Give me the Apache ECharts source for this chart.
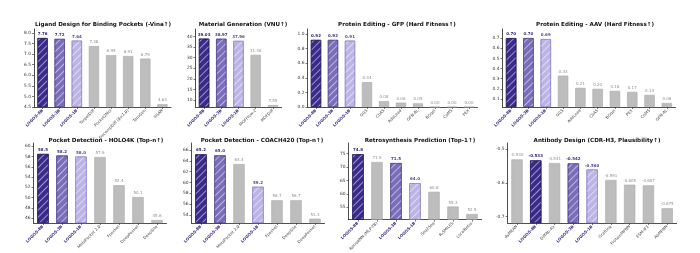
<!DOCTYPE html>
<html>
<head>
<meta charset="utf-8">
<script src="https://cdn.jsdelivr.net/npm/echarts@6/dist/echarts.min.js"></script>
<style>
  html, body { margin: 0; padding: 0; background: #fff; }
  #chart { width: 700px; height: 253px; }
</style>
</head>
<body>
<div id="chart"></div>
<script>
// ---- data ----
var ligandNames = ['LOGOS-8B', 'LOGOS-3B', 'LOGOS-1B', 'TargetDiff', 'Pocket2Mol', 'DecompDiff (β=1.0)', 'TamGen', 'liGAN'];
var ligandVina = [7.76, 7.72, 7.64, 7.38, 6.95, 6.91, 6.79, 4.63];
var ligandTicks = [4.5, 5.0, 5.5, 6.0, 6.5, 7.0, 7.5, 8.0];

var materialNames = ['LOGOS-8B', 'LOGOS-3B', 'LOGOS-1B', 'MOFFlow-2', 'MOFDiff'];
var materialVnu = [39.03, 38.97, 37.96, 31.36, 7.55];
var materialTicks = [10, 15, 20, 25, 30, 35, 40];

var gfpNames = ['LOGOS-8B', 'LOGOS-3B', 'LOGOS-1B', 'GGS', 'CbAS', 'AdaLead', 'GFN-AL', 'BOqei', 'CoMS', 'PEX'];
var gfpFitness = [0.92, 0.92, 0.91, 0.34, 0.08, 0.06, 0.05, 0.00, 0.00, 0.00];
var gfpTicks = [0.0, 0.2, 0.4, 0.6, 0.8, 1.0];

var aavNames = ['LOGOS-8B', 'LOGOS-3B', 'LOGOS-1B', 'GGS', 'AdaLead', 'CbAS', 'BOqei', 'PEX', 'CoMS', 'GFN-AL'];
var aavFitness = [0.70, 0.70, 0.69, 0.33, 0.21, 0.20, 0.18, 0.17, 0.14, 0.06];
var aavTicks = [0.1, 0.2, 0.3, 0.4, 0.5, 0.6, 0.7];

var holoNames = ['LOGOS-8B', 'LOGOS-3B', 'LOGOS-1B', 'MetaPocket 2.0', 'Fpocket', 'DeepPocket', 'DeepSite'];
var holoTop = [58.5, 58.2, 58.0, 57.9, 52.4, 50.1, 45.6];
var holoTicks = [46, 48, 50, 52, 54, 56, 58, 60];

var coachNames = ['LOGOS-8B', 'LOGOS-3B', 'MetaPocket 2.0', 'LOGOS-1B', 'Fpocket', 'DeepSite', 'DeepPocket'];
var coachTop = [65.2, 65.0, 63.4, 59.2, 56.7, 56.7, 53.3];
var coachTicks = [54, 56, 58, 60, 62, 64, 66];

var retroNames = ['LOGOS-8B', 'RetroKNN (MLP-TB)', 'LOGOS-3B', 'LOGOS-1B', 'Seq2Seq', 'R-SMILES', 'LocalRetro'];
var retroTop1 = [74.8, 71.9, 71.5, 64.0, 60.8, 55.3, 52.5];
var retroTicks = [55, 60, 65, 70, 75];

var antibodyNames = ['dyMEAN', 'LOGOS-8B', 'DiffAb-Fix', 'LOGOS-3B', 'LOGOS-1B', 'Grafting', 'ProteinMPNN', 'ESM-IF1', 'AbMPNN'];
var antibodyPlaus = [-0.530, -0.533, -0.541, -0.542, -0.560, -0.591, -0.605, -0.607, -0.675];
var antibodyTicks = [-0.7, -0.6, -0.5];

// ---- panels: data + layout ----
var panels = [
  { title: 'Ligand Design for Binding Pockets (-Vina↑)', names: ligandNames, values: ligandVina, ticks: ligandTicks,
    dec: 2, tickDec: 1, min: 4.5, max: 8.19, left: 34, width: 137, top: 29, height: 78, tx: 98, ty: 17 },
  { title: 'Material Generation (VNU↑)', names: materialNames, values: materialVnu, ticks: materialTicks,
    dec: 2, tickDec: 0, min: 6.68, max: 43.6, left: 195.5, width: 86, top: 29, height: 78, tx: 238, ty: 17 },
  { title: 'Protein Editing - GFP (Hard Fitness↑)', names: gfpNames, values: gfpFitness, ticks: gfpTicks,
    dec: 2, tickDec: 1, min: 0, max: 1.07, left: 307.5, width: 170, top: 29, height: 78, tx: 392, ty: 17 },
  { title: 'Protein Editing - AAV (Hard Fitness↑)', names: aavNames, values: aavFitness, ticks: aavTicks,
    dec: 2, tickDec: 1, min: 0.021, max: 0.79, left: 502.5, width: 173, top: 29, height: 78, tx: 590, ty: 17 },
  { title: 'Pocket Detection - HOLO4K (Top-n↑)', names: holoNames, values: holoTop, ticks: holoTicks,
    dec: 1, tickDec: 0, min: 45.03, max: 60.64, left: 33.5, width: 133, top: 143, height: 80, tx: 101, ty: 133 },
  { title: 'Pocket Detection - COACH420 (Top-n↑)', names: coachNames, values: coachTop, ticks: coachTicks,
    dec: 1, tickDec: 0, min: 52.5, max: 67.3, left: 191.5, width: 133, top: 143, height: 80, tx: 257, ty: 133 },
  { title: 'Retrosynthesis Prediction (Top-1↑)', names: retroNames, values: retroTop1, ticks: retroTicks,
    dec: 1, tickDec: 0, min: 50.4, max: 79.0, left: 348.5, width: 133, top: 143, height: 80, tx: 415, ty: 133 },
  { title: 'Antibody Design (CDR-H3, Plausibility↑)', names: antibodyNames, values: antibodyPlaus, ticks: antibodyTicks,
    dec: 3, tickDec: 1, min: -0.7186, max: -0.4814, left: 507.6, width: 169, top: 143, height: 80, tx: 592, ty: 133 }
];

var FONT = 'DejaVu Sans';
var logosStyle = {
  'LOGOS-8B': { fill: '#3a2a8c', edge: '#1e1458', label: '#2a1f72' },
  'LOGOS-3B': { fill: '#7b6db9', edge: '#4b408c', label: '#3d3383' },
  'LOGOS-1B': { fill: '#bdb4e6', edge: '#8c82c6', label: '#5649a6' }
};
var greyStyle = { fill: '#bdbdbd', edge: '#aaaaaa', label: '#8c8c8c' };

function styleFor(name) {
  return logosStyle[name] || greyStyle;
}

var option = {
  animation: false,
  backgroundColor: '#ffffff',
  title: [], grid: [], xAxis: [], yAxis: [], series: []
};

panels.forEach(function (p, i) {
  option.title.push({
    text: p.title, left: p.tx, top: p.ty, textAlign: 'center',
    textStyle: { fontFamily: FONT, fontSize: 5.6, fontWeight: 'bold', color: '#111' }
  });
  option.grid.push({ left: p.left, top: p.top, width: p.width, height: p.height, containLabel: false });
  option.xAxis.push({
    type: 'category', gridIndex: i, data: p.names,
    axisLine: { lineStyle: { color: '#222', width: 0.8 } },
    axisTick: { show: true, alignWithLabel: true, length: 2, lineStyle: { color: '#222', width: 0.6 } },
    axisLabel: {
      interval: 0, rotate: 45, margin: 3,
      formatter: function (v) { return logosStyle[v] ? '{logo|' + v + '}' : '{base|' + v + '}'; },
      rich: {
        logo: { fontFamily: FONT, fontSize: 4, fontWeight: 'bold', color: '#2e2680' },
        base: { fontFamily: FONT, fontSize: 4, color: '#444' }
      }
    }
  });
  option.yAxis.push({
    type: 'value', gridIndex: i, min: p.min, max: p.max, startValue: p.min,
    splitLine: { show: false },
    axisLine: { show: true, lineStyle: { color: '#222', width: 0.8 } },
    axisTick: { show: true, length: 2, customValues: p.ticks, lineStyle: { color: '#222', width: 0.6 } },
    axisLabel: {
      customValues: p.ticks, margin: 3, fontFamily: FONT, fontSize: 4.4, color: '#333',
      formatter: function (v) { return (+v).toFixed(p.tickDec); }
    }
  });
  option.series.push({
    type: 'bar', xAxisIndex: i, yAxisIndex: i, barWidth: '60%',
    data: p.values.map(function (v, k) {
      var s = styleFor(p.names[k]);
      var isLogos = !!logosStyle[p.names[k]];
      var item = {
        value: v,
        itemStyle: { color: s.fill, borderColor: s.edge, borderWidth: 0.6 },
        label: { color: s.label, fontWeight: isLogos ? 'bold' : 'normal' }
      };
      if (isLogos) {
        item.itemStyle.decal = {
          symbol: 'rect', symbolSize: 1, color: 'rgba(255,255,255,0.5)',
          dashArrayX: [1, 0], dashArrayY: [1, 4], rotation: -Math.PI / 4
        };
      }
      return item;
    }),
    label: {
      show: true, position: 'top', distance: 2, fontFamily: FONT, fontSize: 4,
      formatter: function (prm) { return (+prm.value).toFixed(p.dec); }
    }
  });
});

var chart = echarts.init(document.getElementById('chart'), null, { renderer: 'canvas' });
chart.setOption(option);
window.addEventListener('resize', function () { chart.resize(); });
</script>
</body>
</html>
